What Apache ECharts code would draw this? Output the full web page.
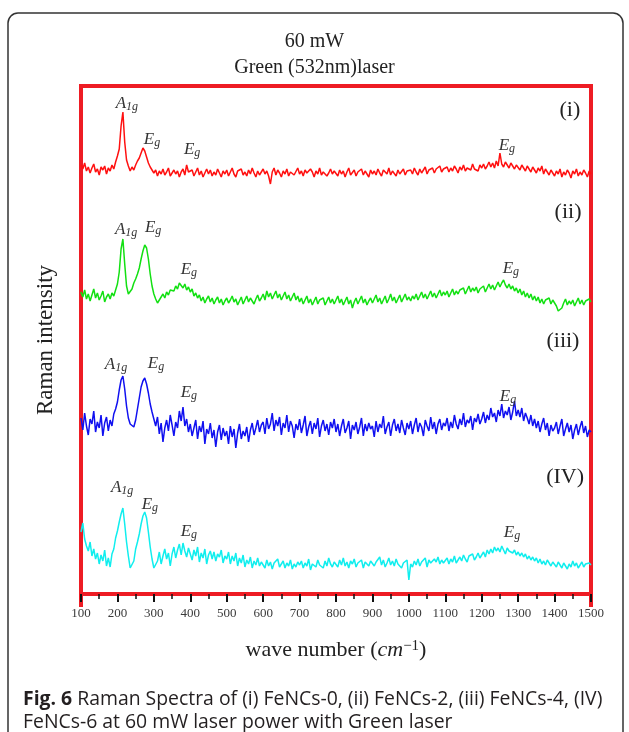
<!DOCTYPE html>
<html>
<head>
<meta charset="utf-8">
<title>Raman spectra</title>
<script src="https://cdn.jsdelivr.net/npm/echarts@6/dist/echarts.min.js"></script>
<style>
  html, body { margin: 0; padding: 0; background: #fff; }
  #main { width: 629px; height: 732px; }
</style>
</head>
<body>
<div id="main"></div>
<script>
// wave number grid: 100 .. 1500 cm-1, one reading every 5 cm-1
var waveStart = 100;
var waveStep = 5;
var xTicks = [100, 200, 300, 400, 500, 600, 700, 800, 900, 1000, 1100, 1200, 1300, 1400, 1500];

// stacked intensities (arbitrary units, offset per sample)
var specI = [
  429,425,431,423,427,421,426,430,422,425,419,427,424,428,420,426,423,429,425,432,
  438,445,468,482,452,434,428,423,427,424,429,433,436,441,446,443,437,431,427,425,
  421,424,418,423,420,425,419,422,426,418,421,424,420,423,417,422,425,419,429,422,
  420,424,418,422,426,419,423,417,421,425,420,424,418,422,419,425,421,417,423,420,
  424,418,422,426,420,417,423,421,425,419,422,418,424,420,426,421,417,423,419,422,
  425,420,423,418,410,422,426,419,424,421,417,423,420,425,418,422,424,419,421,426,
  420,423,418,424,421,419,425,422,417,423,420,426,419,422,424,418,421,425,420,423,
  421,418,424,420,423,417,422,426,419,421,424,418,422,420,425,419,423,421,417,424,
  420,423,419,425,421,418,424,422,420,426,419,423,421,418,424,420,422,425,419,423,
  421,424,420,426,422,419,425,421,423,427,420,424,422,426,421,425,423,428,422,425,
  424,427,422,426,423,428,425,421,427,424,429,423,426,428,424,430,425,427,423,429,
  426,430,425,428,432,427,431,426,433,428,441,430,427,432,429,426,431,428,425,429,
  427,424,429,426,423,428,425,422,427,424,421,426,423,428,420,425,422,419,424,421,
  418,423,420,425,417,422,419,424,421,416,423,420,425,418,422,419,424,421,417,423,
  420
];
var specII = [
  302,297,304,295,300,293,299,305,296,301,294,298,303,292,297,300,295,301,298,304,
  310,322,345,355,330,308,300,299,305,311,315,320,326,335,343,349,346,335,320,308,
  300,295,291,294,297,300,296,302,299,304,306,303,308,305,311,309,306,310,304,307,
  302,305,298,301,296,299,293,297,291,295,298,292,296,290,294,297,291,295,289,293,
  296,291,294,298,292,295,289,293,297,290,294,298,292,296,293,290,295,299,293,296,
  300,294,303,297,301,295,299,303,296,300,294,298,302,295,299,293,297,301,294,298,
  292,296,290,294,298,291,295,289,293,297,290,294,292,296,289,293,297,291,295,290,
  294,298,291,295,289,293,297,290,294,286,292,296,290,294,298,291,295,289,293,296,
  291,295,299,292,296,290,294,298,291,295,300,293,297,291,295,299,292,296,300,294,
  297,293,298,295,300,294,298,302,296,300,295,299,303,297,301,296,300,304,298,302,
  299,303,297,301,305,299,303,300,304,302,306,300,304,308,302,306,303,307,301,305,
  304,308,302,306,310,305,309,304,308,312,307,311,314,309,306,310,305,308,303,306,
  301,305,299,303,297,301,296,300,294,298,293,297,291,295,290,294,292,296,290,294,
  292,288,283,281,286,291,295,289,293,290,294,288,292,296,290,294,289,293,291,295,
  292
];
var specIII = [
  176,164,181,168,159,175,170,183,162,172,166,179,158,171,177,163,174,168,180,185,
  192,204,214,218,205,188,176,170,169,167,174,185,196,207,213,216,210,201,190,182,
  175,168,177,160,171,152,166,174,163,179,169,158,172,166,183,173,187,168,175,162,
  170,158,166,174,155,168,162,173,150,165,160,171,156,164,147,162,169,154,166,158,
  163,150,168,157,165,146,161,170,155,163,158,167,152,164,171,159,166,174,162,169,
  172,160,176,165,170,181,163,174,168,177,159,171,166,179,162,173,168,156,170,164,
  175,161,169,178,158,167,173,160,171,165,176,157,168,174,163,170,159,172,166,175,
  162,170,158,168,175,161,166,173,155,169,164,172,160,167,176,158,170,163,171,165,
  168,157,173,162,170,166,178,160,167,172,158,169,175,163,170,161,174,166,159,171,
  165,173,160,169,176,162,171,167,158,174,168,163,177,165,172,160,170,175,164,171,
  168,176,163,172,166,179,170,165,175,169,181,167,174,171,178,164,176,172,180,170,
  175,182,171,179,174,186,177,181,172,184,178,190,176,183,179,187,174,182,193,178,
  184,177,186,173,181,176,170,179,168,175,166,173,162,170,176,164,171,158,169,163,
  166,172,160,168,175,158,165,171,162,169,155,164,170,159,167,173,161,168,157,164,
  162
];
var specIV = [
  62,71,55,48,43,52,38,45,35,41,30,39,33,44,28,36,27,40,45,56,
  63,72,80,86,70,52,38,26,24,33,45,52,60,70,78,82,76,62,47,35,
  26,24,33,42,30,38,45,35,41,28,40,47,36,44,50,39,51,43,37,46,
  40,34,44,38,47,32,41,36,45,30,39,43,35,42,33,40,37,44,31,38,
  35,42,30,38,33,41,28,36,31,39,27,34,30,37,26,33,29,36,28,32,
  30,26,34,28,32,25,31,29,35,27,30,33,26,31,28,34,25,30,27,32,
  29,33,26,31,28,35,24,30,32,27,34,29,31,26,33,28,36,30,27,32,
  31,27,34,29,36,28,32,26,33,30,35,27,31,29,34,26,32,30,28,33,
  35,28,32,30,37,29,34,27,31,36,29,33,28,35,30,32,26,31,29,34,
  14,30,27,33,29,35,28,32,30,36,27,34,31,29,35,32,37,30,34,31,
  33,36,30,35,32,38,31,34,37,33,39,35,32,38,36,40,34,37,41,36,
  39,42,37,44,40,45,41,47,43,46,42,48,44,40,46,43,45,41,44,39,
  42,38,41,37,40,35,38,34,37,33,36,31,35,30,33,29,34,31,28,32,
  30,27,32,29,26,31,28,25,30,27,33,28,31,26,29,32,27,30,28,31,
  29
];
var sampleNames = ['(i)', '(ii)', '(iii)', '(IV)'];

function withWave(arr) {
    return arr.map(function (v, i) { return [waveStart + i * waveStep, v]; });
}

var RED = '#ee1c24';
var serif = 'Liberation Serif';

// rich styles for the peak labels (A1g / Eg)
var peakRich = {
    m: { fontFamily: serif, fontStyle: 'italic', fontSize: 17, color: '#333', lineHeight: 18 },
    s: { fontFamily: serif, fontStyle: 'italic', fontSize: 12, color: '#333', lineHeight: 12, verticalAlign: 'bottom', padding: [10, 0, 0, 0] },
    r: { fontFamily: serif, fontSize: 22, color: '#222' }
};
var A1g = '{m|A}{s|1g}';
var Eg = '{m|E}{s|g}';

function notes(list) {
    return {
        symbol: 'circle',
        symbolSize: 0,
        silent: true,
        animation: false,
        label: {
            show: true,
            position: 'inside',
            formatter: function (p) { return p.name; },
            rich: peakRich
        },
        data: list.map(function (d) {
            return { coord: [d[0], d[1]], name: d[2] };
        })
    };
}

function spectrum(name, arr, color, marks) {
    return {
        name: name,
        type: 'line',
        data: withWave(arr),
        symbol: 'none',
        animation: false,
        lineStyle: { color: color, width: 1.5 },
        markPoint: notes(marks)
    };
}

var myChart = echarts.init(document.getElementById('main'));
var option = {
    backgroundColor: '#fff',
    title: [{
        text: '60 mW\nGreen (532nm)laser',
        left: 'center',
        top: 24,
        textStyle: { fontFamily: serif, fontSize: 20, fontWeight: 'normal', color: '#222', lineHeight: 26 }
    }, {
        text: '{b|Fig. 6} Raman Spectra of (i) FeNCs-0, (ii) FeNCs-2, (iii) FeNCs-4, (IV)\nFeNCs-6 at 60 mW laser power with Green laser',
        left: 18,
        top: 683,
        textStyle: {
            fontFamily: 'Open Sans', fontSize: 19.4, fontWeight: 'normal', color: '#231f20', lineHeight: 23,
            rich: { b: { fontFamily: 'Open Sans', fontSize: 19.4, fontWeight: 'bold', color: '#231f20' } }
        }
    }],
    grid: {
        left: 81, right: 38, top: 86, bottom: 138,
        show: true, borderColor: RED, borderWidth: 4, backgroundColor: 'transparent'
    },
    xAxis: {
        type: 'value',
        min: 100, max: 1500, interval: 100,
        name: '{n|wave number (}{i|cm}{u|−1}{n|)}',
        nameLocation: 'middle',
        nameGap: 45,
        nameTextStyle: {
            rich: {
                n: { fontFamily: serif, fontSize: 22, color: '#222' },
                i: { fontFamily: serif, fontStyle: 'italic', fontSize: 22, color: '#222' },
                u: { fontFamily: serif, fontSize: 15, color: '#222', verticalAlign: 'top', lineHeight: 15, padding: [0, 0, 10, 0] }
            }
        },
        axisLine: { show: false },
        axisTick: { show: true, length: 8, lineStyle: { color: '#111', width: 2 } },
        minorTick: { show: true, splitNumber: 2, length: 5, lineStyle: { color: '#111', width: 1.5 } },
        splitLine: { show: false },
        axisLabel: {
            margin: 13,
            fontFamily: serif, fontSize: 13, color: '#3a3a3a',
            formatter: function (v) { return xTicks.indexOf(v) >= 0 ? String(v) : ''; }
        }
    },
    yAxis: {
        type: 'value',
        min: 0, max: 508,
        name: 'Raman intensity',
        nameLocation: 'middle',
        nameGap: 24,
        nameTextStyle: { fontFamily: serif, fontSize: 23, color: '#222' },
        axisLine: { show: false },
        axisTick: { show: false },
        axisLabel: { show: false },
        splitLine: { show: false }
    },
    graphic: [{
        type: 'rect',
        shape: { x: 8, y: 13, width: 615, height: 740, r: 10 },
        style: { fill: 'none', stroke: '#333', lineWidth: 1.5 },
        silent: true
    }, {
        type: 'line',
        shape: { x1: 81, y1: 594, x2: 81, y2: 607 },
        style: { stroke: RED, lineWidth: 4 }
    }, {
        type: 'line',
        shape: { x1: 591, y1: 594, x2: 591, y2: 607 },
        style: { stroke: RED, lineWidth: 4 }
    }],
    series: [
        spectrum(sampleNames[0], specI, '#ff1010', [
            [226, 490, A1g], [295, 454, Eg], [405, 444, Eg], [1269, 448, Eg], [1442, 484, '{r|(i)}']
        ]),
        spectrum(sampleNames[1], specII, '#12e012', [
            [224, 364, A1g], [298, 366, Eg], [396, 324, Eg], [1280, 325, Eg], [1437, 382, '{r|(ii)}']
        ]),
        spectrum(sampleNames[2], specIII, '#1010f0', [
            [196, 229, A1g], [306, 230, Eg], [396, 201, Eg], [1272, 197, Eg], [1423, 253, '{r|(iii)}']
        ]),
        spectrum(sampleNames[3], specIV, '#10eeee', [
            [213, 106, A1g], [289, 89, Eg], [396, 62, Eg], [1283, 61, Eg], [1429, 117, '{r|(IV)}']
        ])
    ]
};
myChart.setOption(option);
</script>
</body>
</html>
